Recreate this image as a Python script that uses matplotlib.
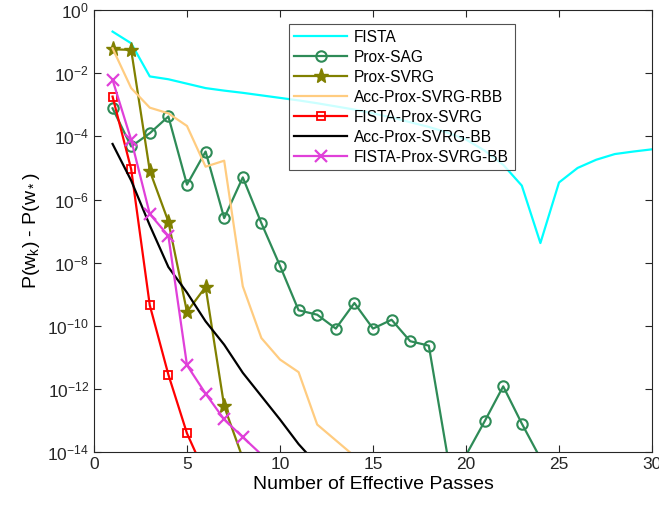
import numpy as np
import matplotlib
matplotlib.use('Agg')
import matplotlib.pyplot as plt
from matplotlib.ticker import FixedLocator, LogFormatterMathtext, NullLocator

plt.rcParams['font.family'] = ['Liberation Sans', 'DejaVu Sans']
plt.rcParams['mathtext.fontset'] = 'custom'
plt.rcParams['mathtext.rm'] = 'Liberation Sans'
plt.rcParams['mathtext.it'] = 'Liberation Sans:italic'

# log10 of P(w_k) - P(w_*)
fista_x = np.arange(1, 31)
fista_log = [-0.68, -1.05, -2.1, -2.19, -2.33, -2.47, -2.55, -2.62, -2.7, -2.78,
             -2.86, -2.95, -3.05, -3.15, -3.27, -3.4, -3.55, -3.7, -3.88, -4.1,
             -4.45, -4.9, -5.56, -7.38, -5.46, -5.0, -4.74, -4.56, -4.48, -4.41]

sag_x = np.arange(1, 25)
sag_log = [-3.11, -4.32, -3.9, -3.37, -5.53, -4.48, -6.59, -5.3, -6.75, -8.1,
           -9.51, -9.65, -10.09, -9.28, -10.09, -9.81, -10.49, -10.63, -14.1, -14.1,
           -13.03, -11.92, -13.1, -14.2]

svrg_x = np.arange(1, 9)
svrg_log = [-1.24, -1.26, -5.09, -6.7, -9.56, -8.77, -12.55, -14.2]

rbb_x = np.arange(1, 15)
rbb_log = [-1.21, -2.47, -3.09, -3.27, -3.67, -4.96, -4.77, -8.75, -10.39, -11.07,
           -11.47, -13.13, -13.63, -14.13]

fps_x = np.arange(1, 7)
fps_log = [-2.74, -5.04, -9.35, -11.55, -13.41, -14.72]

bb_x = np.arange(1, 13)
bb_log = [-4.24, -5.4, -6.82, -8.14, -8.95, -9.86, -10.6, -11.49, -12.23, -12.97,
          -13.75, -14.4]

fpsbb_x = np.arange(1, 10)
fpsbb_log = [-2.21, -4.11, -6.46, -7.15, -11.25, -12.15, -12.97, -13.53, -14.08]


def visible(vals):
    # markers only where the point is inside the axes
    return [i for i, v in enumerate(vals) if v > -14]


fig = plt.figure(figsize=(6.59, 5.07), dpi=100)
ax = fig.add_axes([0.1426, 0.1085, 0.8468, 0.8715])

lw = 1.6
ax.plot(fista_x, 10.0 ** np.array(fista_log), '-', color=(0, 1, 1), lw=lw, label='FISTA')
ax.plot(sag_x, 10.0 ** np.array(sag_log), '-o', color=(0.18, 0.545, 0.34), lw=lw,
        markersize=7.5, markerfacecolor='none', markeredgewidth=1.5,
        markevery=visible(sag_log), label='Prox-SAG')
ax.plot(svrg_x, 10.0 ** np.array(svrg_log), '-*', color=(0.5, 0.5, 0), lw=lw,
        markersize=11, markevery=visible(svrg_log), label='Prox-SVRG')
ax.plot(rbb_x, 10.0 ** np.array(rbb_log), '-', color=(1.0, 0.8, 0.5), lw=lw,
        label='Acc-Prox-SVRG-RBB')
ax.plot(fps_x, 10.0 ** np.array(fps_log), '-s', color='red', lw=lw,
        markersize=6, markerfacecolor='none', markeredgewidth=1.3,
        markevery=visible(fps_log), label='FISTA-Prox-SVRG')
ax.plot(bb_x, 10.0 ** np.array(bb_log), '-', color='black', lw=lw,
        label='Acc-Prox-SVRG-BB')
ax.plot(fpsbb_x, 10.0 ** np.array(fpsbb_log), '-x', color=(0.88, 0.25, 0.85), lw=lw,
        markersize=8, markeredgewidth=1.6, markevery=visible(fpsbb_log),
        label='FISTA-Prox-SVRG-BB')

ax.set_yscale('log')
ax.set_xlim(0, 30)
ax.set_ylim(1e-14, 1e0)
ax.set_xticks([0, 5, 10, 15, 20, 25, 30])
ax.yaxis.set_major_locator(FixedLocator([10.0 ** k for k in range(-14, 1, 2)]))
ax.yaxis.set_major_formatter(LogFormatterMathtext())
ax.yaxis.set_minor_locator(NullLocator())
ax.tick_params(direction='in', top=True, right=True, labelsize=12.5, length=5, width=0.8,
               colors='#262626')
for s in ax.spines.values():
    s.set_color('#262626')
    s.set_linewidth(0.8)

ax.set_xlabel('Number of Effective Passes', fontsize=14, labelpad=3)
ax.set_ylabel(r'P(w$_{\rm k}$) - P(w$_*$)', fontsize=14)

leg = ax.legend(loc='upper left', bbox_to_anchor=(0.349, 0.968), fontsize=11.2,
                frameon=True, fancybox=False, edgecolor='#262626', handlelength=3.4,
                labelspacing=0.32, borderpad=0.35, handletextpad=0.45, borderaxespad=0)
leg.get_frame().set_linewidth(0.8)

fig.savefig('out.png', dpi=100)
